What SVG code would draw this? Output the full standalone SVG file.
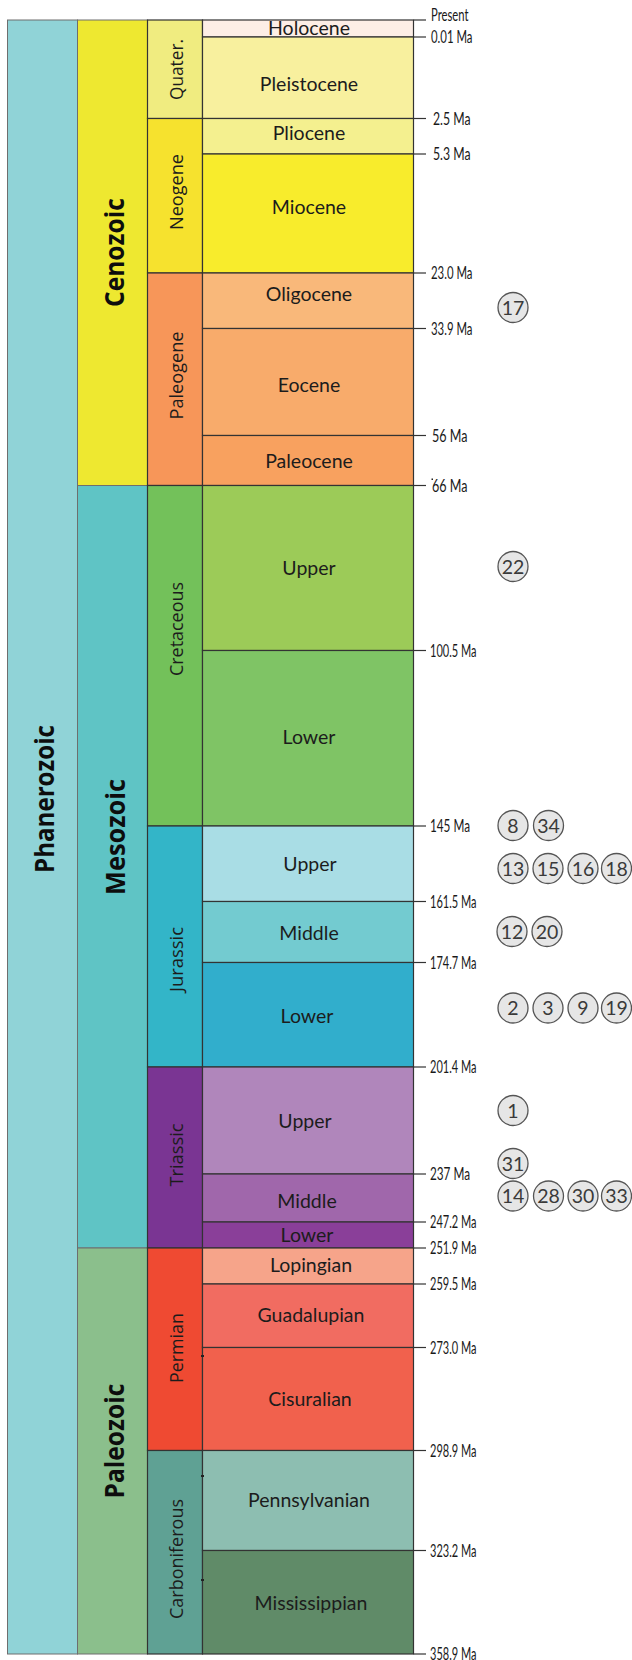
<svg xmlns="http://www.w3.org/2000/svg" width="632" height="1660" viewBox="0 0 632 1660">
<style>
.cell{stroke:#333;stroke-width:1.2}
.col{stroke:#6e6e6e;stroke-width:1}
.ep{font-family:Lato,"Liberation Sans",sans-serif;font-size:19.5px;fill:#1c1c1c;text-anchor:middle}
.era{font-family:"Open Sans","DejaVu Sans",sans-serif;font-weight:700;font-size:27px;fill:#0d0d0d;text-anchor:middle}
.per{font-family:"Open Sans","DejaVu Sans",sans-serif;font-size:18.5px;fill:#1c1c1c;text-anchor:middle}
.ma{font-family:Lato,"Liberation Sans",sans-serif;font-size:16.5px;fill:#1a1a1a}
.tick{stroke:#333;stroke-width:1.2}
.bub circle{fill:#e6e6e6;stroke:#555;stroke-width:1.3}
.bub text{font-family:Lato,"Liberation Sans",sans-serif;font-size:19.5px;fill:#3a3a3a;text-anchor:middle}
</style>
<rect width="632" height="1660" fill="#ffffff"/>

<!-- Eon -->
<g id="phanerozoic">
<rect class="col" x="7.5" y="20" width="70" height="1634" fill="#90d3d7"/>
<text class="era" transform="translate(53.5,799) rotate(-90)" textLength="148" lengthAdjust="spacingAndGlyphs">Phanerozoic</text>
</g>

<!-- Eras -->
<g id="cenozoic">
<rect class="col" x="77.5" y="20" width="70" height="465.5" fill="#eee830"/>
<text class="era" transform="translate(124,252.5) rotate(-90)" textLength="109" lengthAdjust="spacingAndGlyphs">Cenozoic</text>
</g>
<g id="mesozoic">
<rect class="col" x="77.5" y="485.5" width="70" height="762.5" fill="#5fc4c5"/>
<text class="era" transform="translate(124.5,837) rotate(-90)" textLength="116" lengthAdjust="spacingAndGlyphs">Mesozoic</text>
</g>
<g id="paleozoic">
<rect class="col" x="77.5" y="1248" width="70" height="406" fill="#8bbf8c"/>
<text class="era" transform="translate(124,1441) rotate(-90)" textLength="115" lengthAdjust="spacingAndGlyphs">Paleozoic</text>
</g>

<!-- Periods -->
<g id="quaternary">
<rect class="cell" x="147.5" y="20" width="55" height="98.5" fill="#f0ec80"/>
<text class="per" transform="translate(183,69.5) rotate(-90)" textLength="61" lengthAdjust="spacingAndGlyphs">Quater.</text>
</g>
<g id="neogene">
<rect class="cell" x="147.5" y="118.5" width="55" height="154.5" fill="#f6e22e"/>
<text class="per" transform="translate(183,192) rotate(-90)" textLength="76" lengthAdjust="spacingAndGlyphs">Neogene</text>
</g>
<g id="paleogene">
<rect class="cell" x="147.5" y="273" width="55" height="212.5" fill="#f79659"/>
<text class="per" transform="translate(183,375.5) rotate(-90)" textLength="88" lengthAdjust="spacingAndGlyphs">Paleogene</text>
</g>
<g id="cretaceous">
<rect class="cell" x="147.5" y="485.5" width="55" height="340.5" fill="#73c15a"/>
<text class="per" transform="translate(183,629) rotate(-90)" textLength="94" lengthAdjust="spacingAndGlyphs">Cretaceous</text>
</g>
<g id="jurassic">
<rect class="cell" x="147.5" y="826" width="55" height="241" fill="#33b5c8"/>
<text class="per" transform="translate(183,959.5) rotate(-90)" textLength="65" lengthAdjust="spacingAndGlyphs">Jurassic</text>
</g>
<g id="triassic">
<rect class="cell" x="147.5" y="1067" width="55" height="181" fill="#7a3593"/>
<text class="per" transform="translate(183,1155) rotate(-90)" textLength="63" lengthAdjust="spacingAndGlyphs">Triassic</text>
</g>
<g id="permian">
<rect class="cell" x="147.5" y="1248" width="55" height="202.5" fill="#ef4a32"/>
<text class="per" transform="translate(183,1348) rotate(-90)" textLength="70" lengthAdjust="spacingAndGlyphs">Permian</text>
</g>
<g id="carboniferous">
<rect class="cell" x="147.5" y="1450.5" width="55" height="203.5" fill="#5fa194"/>
<text class="per" transform="translate(183,1559) rotate(-90)" textLength="120" lengthAdjust="spacingAndGlyphs">Carboniferous</text>
</g>

<!-- Epochs -->
<g id="holocene"><rect class="cell" x="202.5" y="20" width="211" height="17" fill="#fdeee6"/><text class="ep" x="309" y="35">Holocene</text></g>
<g id="pleistocene"><rect class="cell" x="202.5" y="37" width="211" height="81.5" fill="#f8f09e"/><text class="ep" x="309" y="90.5">Pleistocene</text></g>
<g id="pliocene"><rect class="cell" x="202.5" y="118.5" width="211" height="35.5" fill="#f4f08f"/><text class="ep" x="309" y="140">Pliocene</text></g>
<g id="miocene"><rect class="cell" x="202.5" y="154" width="211" height="119" fill="#f8ec2c"/><text class="ep" x="309" y="213.5">Miocene</text></g>
<g id="oligocene"><rect class="cell" x="202.5" y="273" width="211" height="55.5" fill="#f9b87a"/><text class="ep" x="309" y="301">Oligocene</text></g>
<g id="eocene"><rect class="cell" x="202.5" y="328.5" width="211" height="107" fill="#f8ab6b"/><text class="ep" x="309" y="391.5">Eocene</text></g>
<g id="paleocene"><rect class="cell" x="202.5" y="435.5" width="211" height="50" fill="#f8a15f"/><text class="ep" x="309" y="467.5">Paleocene</text></g>
<g id="upper-cretaceous"><rect class="cell" x="202.5" y="485.5" width="211" height="165" fill="#9ccb58"/><text class="ep" x="309" y="575">Upper</text></g>
<g id="lower-cretaceous"><rect class="cell" x="202.5" y="650.5" width="211" height="175.5" fill="#7fc465"/><text class="ep" x="309" y="744">Lower</text></g>
<g id="upper-jurassic"><rect class="cell" x="202.5" y="826" width="211" height="75.5" fill="#a9dde5"/><text class="ep" x="310" y="870.5">Upper</text></g>
<g id="middle-jurassic"><rect class="cell" x="202.5" y="901.5" width="211" height="61" fill="#73cbd0"/><text class="ep" x="309" y="940">Middle</text></g>
<g id="lower-jurassic"><rect class="cell" x="202.5" y="962.5" width="211" height="104.5" fill="#31aecc"/><text class="ep" x="307" y="1022.5">Lower</text></g>
<g id="upper-triassic"><rect class="cell" x="202.5" y="1067" width="211" height="107" fill="#b086bb"/><text class="ep" x="305" y="1127.5">Upper</text></g>
<g id="middle-triassic"><rect class="cell" x="202.5" y="1174" width="211" height="48" fill="#a067ab"/><text class="ep" x="307" y="1208">Middle</text></g>
<g id="lower-triassic"><rect class="cell" x="202.5" y="1222" width="211" height="26" fill="#8a3f99"/><text class="ep" x="307" y="1242">Lower</text></g>
<g id="lopingian"><rect class="cell" x="202.5" y="1248" width="211" height="36" fill="#f6a48a"/><text class="ep" x="311" y="1271.5">Lopingian</text></g>
<g id="guadalupian"><rect class="cell" x="202.5" y="1284" width="211" height="63.5" fill="#f16c61"/><text class="ep" x="311" y="1322">Guadalupian</text></g>
<g id="cisuralian"><rect class="cell" x="202.5" y="1347.5" width="211" height="103" fill="#f1614d"/><text class="ep" x="310" y="1405.5">Cisuralian</text></g>
<g id="pennsylvanian"><rect class="cell" x="202.5" y="1450.5" width="211" height="100" fill="#8dbeb1"/><text class="ep" x="309" y="1506.5">Pennsylvanian</text></g>
<g id="mississippian"><rect class="cell" x="202.5" y="1550.5" width="211" height="103.5" fill="#608b68"/><text class="ep" x="311" y="1610">Mississippian</text></g>

<!-- small marks -->
<g id="marks" fill="#222">
<rect x="201" y="1355" width="3" height="2"/>
<rect x="201" y="1475" width="3" height="2"/>
<rect x="201" y="1579" width="3" height="2"/>
<rect x="431.5" y="478.5" width="1.5" height="1.5"/>
</g>

<!-- Ticks and age labels -->
<g id="connectors">
<line class="tick" x1="413.5" y1="20" x2="426" y2="20"/>
<line class="tick" x1="413.5" y1="37" x2="426" y2="37"/>
<line class="tick" x1="413.5" y1="118.5" x2="426" y2="118.5"/>
<line class="tick" x1="413.5" y1="154" x2="426" y2="154"/>
<line class="tick" x1="413.5" y1="273" x2="426" y2="273"/>
<line class="tick" x1="413.5" y1="328.5" x2="426" y2="328.5"/>
<line class="tick" x1="413.5" y1="435.5" x2="426" y2="435.5"/>
<line class="tick" x1="413.5" y1="485.5" x2="426" y2="485.5"/>
<line class="tick" x1="413.5" y1="650.5" x2="426" y2="650.5"/>
<line class="tick" x1="413.5" y1="826" x2="426" y2="826"/>
<line class="tick" x1="413.5" y1="901.5" x2="426" y2="901.5"/>
<line class="tick" x1="413.5" y1="962.5" x2="426" y2="962.5"/>
<line class="tick" x1="413.5" y1="1067" x2="426" y2="1067"/>
<line class="tick" x1="413.5" y1="1174" x2="426" y2="1174"/>
<line class="tick" x1="413.5" y1="1222" x2="426" y2="1222"/>
<line class="tick" x1="413.5" y1="1248" x2="426" y2="1248"/>
<line class="tick" x1="413.5" y1="1284" x2="426" y2="1284"/>
<line class="tick" x1="413.5" y1="1347.5" x2="426" y2="1347.5"/>
<line class="tick" x1="413.5" y1="1450.5" x2="426" y2="1450.5"/>
<line class="tick" x1="413.5" y1="1550.5" x2="426" y2="1550.5"/>
<line class="tick" x1="413.5" y1="1654" x2="426" y2="1654"/>
</g>
<g id="ages">
<text class="ma" x="431" y="21" textLength="37.5" lengthAdjust="spacingAndGlyphs">Present</text>
<text class="ma" x="431" y="43" textLength="41.5" lengthAdjust="spacingAndGlyphs">0.01 Ma</text>
<text class="ma" x="433" y="124.5" textLength="37.5" lengthAdjust="spacingAndGlyphs">2.5 Ma</text>
<text class="ma" x="433" y="160" textLength="37.5" lengthAdjust="spacingAndGlyphs">5.3 Ma</text>
<text class="ma" x="431" y="279" textLength="41.5" lengthAdjust="spacingAndGlyphs">23.0 Ma</text>
<text class="ma" x="431" y="334.5" textLength="41.5" lengthAdjust="spacingAndGlyphs">33.9 Ma</text>
<text class="ma" x="432" y="441.5" textLength="35.5" lengthAdjust="spacingAndGlyphs">56 Ma</text>
<text class="ma" x="432" y="491.5" textLength="35.5" lengthAdjust="spacingAndGlyphs">66 Ma</text>
<text class="ma" x="430" y="656.5" textLength="46.5" lengthAdjust="spacingAndGlyphs">100.5 Ma</text>
<text class="ma" x="430" y="832" textLength="40" lengthAdjust="spacingAndGlyphs">145 Ma</text>
<text class="ma" x="430" y="907.5" textLength="46.5" lengthAdjust="spacingAndGlyphs">161.5 Ma</text>
<text class="ma" x="430" y="968.5" textLength="46.5" lengthAdjust="spacingAndGlyphs">174.7 Ma</text>
<text class="ma" x="430" y="1073" textLength="46.5" lengthAdjust="spacingAndGlyphs">201.4 Ma</text>
<text class="ma" x="430" y="1180" textLength="40" lengthAdjust="spacingAndGlyphs">237 Ma</text>
<text class="ma" x="430" y="1228" textLength="46.5" lengthAdjust="spacingAndGlyphs">247.2 Ma</text>
<text class="ma" x="430" y="1254" textLength="46.5" lengthAdjust="spacingAndGlyphs">251.9 Ma</text>
<text class="ma" x="430" y="1290" textLength="46.5" lengthAdjust="spacingAndGlyphs">259.5 Ma</text>
<text class="ma" x="430" y="1353.5" textLength="46.5" lengthAdjust="spacingAndGlyphs">273.0 Ma</text>
<text class="ma" x="430" y="1456.5" textLength="46.5" lengthAdjust="spacingAndGlyphs">298.9 Ma</text>
<text class="ma" x="430" y="1556.5" textLength="46.5" lengthAdjust="spacingAndGlyphs">323.2 Ma</text>
<text class="ma" x="430" y="1659.5" textLength="46.5" lengthAdjust="spacingAndGlyphs">358.9 Ma</text>
</g>

<!-- Locality bubbles -->
<g class="bub">
<g id="b17"><circle cx="513" cy="307.5" r="15"/><text x="513" y="314.5">17</text></g>
<g id="b22"><circle cx="513" cy="566.5" r="15"/><text x="513" y="573.5">22</text></g>
<g id="b8"><circle cx="513" cy="825.5" r="15"/><text x="513" y="832.5">8</text></g>
<g id="b34"><circle cx="548.5" cy="825.5" r="15"/><text x="548.5" y="832.5">34</text></g>
<g id="b13"><circle cx="513" cy="868.5" r="15"/><text x="513" y="875.5">13</text></g>
<g id="b15"><circle cx="548" cy="868.5" r="15"/><text x="548" y="875.5">15</text></g>
<g id="b16"><circle cx="583" cy="868.5" r="15"/><text x="583" y="875.5">16</text></g>
<g id="b18"><circle cx="616.5" cy="868.5" r="15"/><text x="616.5" y="875.5">18</text></g>
<g id="b12"><circle cx="512" cy="931.5" r="15"/><text x="512" y="938.5">12</text></g>
<g id="b20"><circle cx="547" cy="931.5" r="15"/><text x="547" y="938.5">20</text></g>
<g id="b2"><circle cx="513" cy="1008" r="15"/><text x="513" y="1015">2</text></g>
<g id="b3"><circle cx="548" cy="1008" r="15"/><text x="548" y="1015">3</text></g>
<g id="b9"><circle cx="583" cy="1008" r="15"/><text x="583" y="1015">9</text></g>
<g id="b19"><circle cx="616.5" cy="1008" r="15"/><text x="616.5" y="1015">19</text></g>
<g id="b1"><circle cx="513" cy="1110.5" r="15"/><text x="513" y="1117.5">1</text></g>
<g id="b31"><circle cx="513" cy="1163.5" r="15"/><text x="513" y="1170.5">31</text></g>
<g id="b14"><circle cx="513" cy="1196" r="15"/><text x="513" y="1203">14</text></g>
<g id="b28"><circle cx="548.5" cy="1196" r="15"/><text x="548.5" y="1203">28</text></g>
<g id="b30"><circle cx="583" cy="1196" r="15"/><text x="583" y="1203">30</text></g>
<g id="b33"><circle cx="616.5" cy="1196" r="15"/><text x="616.5" y="1203">33</text></g>
</g>
</svg>
